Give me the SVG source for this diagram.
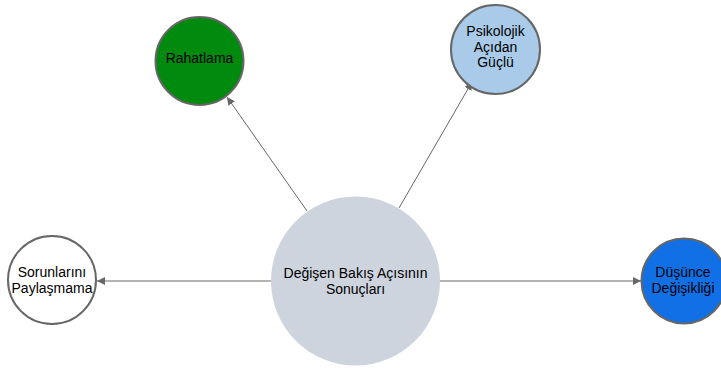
<svg xmlns="http://www.w3.org/2000/svg" width="721" height="370" viewBox="0 0 721 370">
  <style>
    .node { stroke: #666666; stroke-width: 2; }
    .lbl { font-family: "Liberation Sans", Arial, sans-serif; font-size: 14px; fill: #000000; text-anchor: middle; }
    .edge { stroke: #666666; stroke-width: 1; fill: none; marker-end: url(#arrow); }
  </style>
  <defs>
    <marker id="arrow" viewBox="0 0 10 10" refX="10" refY="5" markerWidth="8" markerHeight="8" markerUnits="userSpaceOnUse" orient="auto">
      <path d="M0,0 L10,5 L0,10 z" fill="#666666"/>
    </marker>
  </defs>
  <rect width="721" height="370" fill="#ffffff"/>

  <g id="connectors">
    <line class="edge" x1="307" y1="211" x2="227" y2="97"/>
    <line class="edge" x1="399" y1="208" x2="472" y2="82"/>
    <line class="edge" x1="271" y1="281" x2="97" y2="281"/>
    <line class="edge" x1="440" y1="281" x2="641" y2="281"/>
  </g>

  <g id="center">
    <circle cx="355.5" cy="281" r="84.5" fill="#cdd4dd"/>
    <text class="lbl" x="355.5" y="277.5">Değişen Bakış Açısının</text>
    <text class="lbl" x="355.5" y="293.5">Sonuçları</text>
  </g>

  <g id="rahatlama">
    <circle class="node" cx="199.5" cy="61" r="44" fill="#008a0e"/>
    <text class="lbl" x="199.5" y="62.5">Rahatlama</text>
  </g>

  <g id="psikolojik">
    <circle class="node" cx="495.5" cy="49.5" r="44.5" fill="#a9cbe9"/>
    <text class="lbl" x="495.5" y="36">Psikolojik</text>
    <text class="lbl" x="495.5" y="52">Açıdan</text>
    <text class="lbl" x="495.5" y="67">Güçlü</text>
  </g>

  <g id="sorunlarini">
    <circle class="node" cx="52" cy="280" r="44" fill="#ffffff"/>
    <text class="lbl" x="52" y="277">Sorunlarını</text>
    <text class="lbl" x="52" y="293">Paylaşmama</text>
  </g>

  <g id="dusunce">
    <circle class="node" cx="684" cy="281" r="42.5" fill="#1170e6"/>
    <text class="lbl" x="683" y="277">Düşünce</text>
    <text class="lbl" x="683" y="293">Değişikliği</text>
  </g>
</svg>
